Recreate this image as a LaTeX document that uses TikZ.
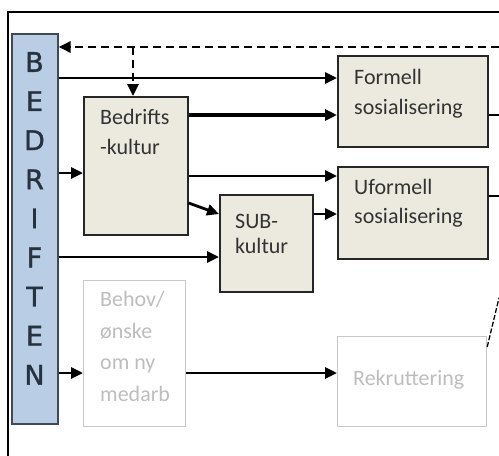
\documentclass[tikz,border=0pt]{standalone}
\usepackage{fontspec}
\setmainfont{Carlito}
\newfontfamily\firmfont[FakeBold=1.2]{DejaVu Sans}
\usetikzlibrary{positioning,arrows.meta,calc}
\definecolor{firmblue}{HTML}{B9CDE5}
\definecolor{firmedge}{HTML}{3F4A57}
\definecolor{firmtext}{HTML}{26323F}
\definecolor{tanfill}{HTML}{ECEADF}
\definecolor{boxtext}{HTML}{333333}
\definecolor{fadeline}{HTML}{C8C8C8}
\definecolor{fadetext}{HTML}{BDBDBD}
\tikzset{
  rim/.style={line width=1.4pt,black},
  firmbox/.style={draw=firmedge,fill=firmblue,line width=1.6pt,inner sep=0pt,anchor=north west},
  firmlet/.style={font=\firmfont\fontsize{27}{27}\selectfont,text=firmtext,inner sep=0pt},
  kbox/.style={draw=black!85,fill=tanfill,line width=1.6pt,inner sep=0pt,anchor=north west},
  gbox/.style={draw=fadeline,line width=1.2pt,inner sep=0pt,anchor=north west},
  btxt/.style={font=\fontsize{22}{#1}\selectfont,text=boxtext,align=left,inner sep=0pt,anchor=base west},
  btxt/.default=30pt,
  gtxt/.style={btxt=#1,text=fadetext},
  gtxt/.default=30pt,
  conn/.style={-{Triangle[length=12pt,width=11pt]},line width=2.8pt},
  fback/.style={conn,dash pattern=on 8pt off 5pt},
  outln/.style={line width=2.8pt},
}
\begin{document}
\begin{tikzpicture}[x=1pt,y=-1pt]
  \useasboundingbox (0,0) rectangle (499,456);
  \draw[rim] (499,12) -| (8,456);
  % boxes
  \node[firmbox,minimum width=46pt,minimum height=390pt] (firm) at (11,33) {};
  \foreach \ch [count=\i] in {B,E,D,R,I,F,T,E,N}
    \node[firmlet] (let\i) at (34.5,{62+39.1*(\i-1)}) {\ch};
  \node[kbox,minimum width=104pt,minimum height=138pt] (kultur) at (83,96) {};
  \node[kbox,minimum width=150pt,minimum height=91pt] (formell) at (337,55) {};
  \node[kbox,minimum width=150pt,minimum height=92pt] (uformell) at (337,166) {};
  \node[kbox,minimum width=93pt,minimum height=97pt] (sub) at (219,194) {};
  \node[gbox,minimum width=102pt,minimum height=146pt] (behov) at (83,280) {};
  \node[gbox,minimum width=149pt,minimum height=90pt] (rekrut) at (337,336) {};
  % texts (base = last line)
  \node[btxt] (kulturtxt) at (100,154.5) {Bedrifts\\-kultur};
  \node[btxt] (formtxt) at (354,114.5) {Formell\\sosialisering};
  \node[btxt=29pt] (uformtxt) at (354,223.5) {Uformell\\sosialisering};
  \node[btxt=25pt] (subtxt) at (235,253.5) {SUB-\\kultur};
  \node[gtxt=31.7pt] (behovtxt) at (100,401.6) {Behov/\\ønske\\om ny\\medarb};
  \node[gtxt] (rektxt) at (353,385.5) {Rekruttering};
  % feedback
  \coordinate (fbin) at (499,47);
  \coordinate (fork) at (133,47);
  \draw[fback] (fbin) -- (firm.east |- fbin);
  \draw[fback] (fork) -- (fork |- kultur.north);
  % connectors
  \draw[conn] (firm.east |- 0,78) -- (formell.west |- 0,78);
  \draw[conn,line width=4pt] (kultur.east |- 0,115) -- (formell.west |- 0,115);
  \draw[conn] (firm.east |- 0,173) -- (kultur.west |- 0,173);
  \draw[conn] (kultur.east |- 0,176) -- (uformell.west |- 0,176);
  \draw[conn] (kultur.east |- 0,203) -- (sub.west |- 0,214);
  \draw[conn] (sub.east |- 0,214) -- (uformell.west |- 0,214);
  \draw[conn] (firm.east |- 0,257) -- (sub.west |- 0,257);
  \draw[conn] (firm.east |- 0,373) -- (behov.west |- 0,373);
  \draw[conn] (behov.east |- 0,373) -- (rekrut.west |- 0,373);
  % outgoing at the right edge
  \coordinate (formout) at (499,115);
  \coordinate (uformout) at (499,196);
  \coordinate (rekout) at (499,298);
  \draw[outln] (formell.east |- formout) -- (formout);
  \draw[outln] (uformell.east |- uformout) -- (uformout);
  \draw[line width=1.3pt,dash pattern=on 5pt off 2pt] ([yshift=-11pt]rekrut.north east) -- (rekout);
\end{tikzpicture}
\end{document}
